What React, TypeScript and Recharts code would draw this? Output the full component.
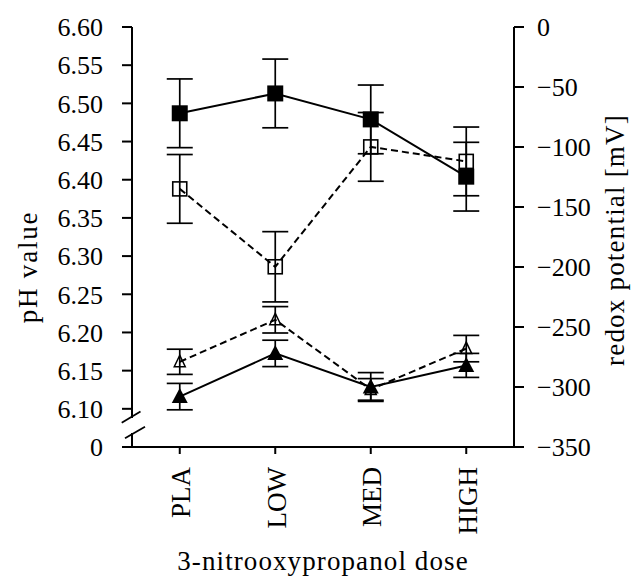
import React from "react";
import { ComposedChart, Line, XAxis, YAxis, ErrorBar } from "recharts";

const doses = ["PLA", "LOW", "MED", "HIGH"];

// pH (left axis)
const phFilled = [6.487, 6.513, 6.479, 6.404];
const phFilledSd = [0.045, 0.045, 0.045, 0.045];
const phOpen = [6.388, 6.286, 6.443, 6.424];
const phOpenSd = [0.045, 0.046, 0.045, 0.045];

// redox potential, mV (right axis)
const redoxFilled = [-308, -272, -300, -282];
const redoxFilledSd = [11, 11, 12, 10];
const redoxOpen = [-279, -244, -302, -268];
const redoxOpenSd = [10.5, 11, 9, 11];

const phTicks = [6.05, 6.1, 6.15, 6.2, 6.25, 6.3, 6.35, 6.4, 6.45, 6.5, 6.55, 6.6];
const redoxTicks = [-350, -300, -250, -200, -150, -100, -50, 0];

const data = doses.map((dose, i) => ({
  dose,
  phFilled: phFilled[i],
  phFilledSd: phFilledSd[i],
  phOpen: phOpen[i],
  phOpenSd: phOpenSd[i],
  redoxFilled: redoxFilled[i],
  redoxFilledSd: redoxFilledSd[i],
  redoxOpen: redoxOpen[i],
  redoxOpenSd: redoxOpenSd[i],
}));

const FONT = "Liberation Serif, Times New Roman, serif";
const INK = "#000";

const tickStyle = { fill: INK, fontSize: 26, fontFamily: FONT };

const FilledSquare = (p: any) => (
  <rect key={p.key} x={p.cx - 8} y={p.cy - 8} width={16} height={16} fill={INK} />
);
const OpenSquare = (p: any) => (
  <rect key={p.key} x={p.cx - 7} y={p.cy - 7} width={14} height={14} fill="none" stroke={INK} strokeWidth={1.6} />
);
const FilledTriangle = (p: any) => (
  <polygon
    key={p.key}
    points={`${p.cx},${p.cy - 8.5} ${p.cx - 8},${p.cy + 6.5} ${p.cx + 8},${p.cy + 6.5}`}
    fill={INK}
  />
);
const OpenTriangle = (p: any) => (
  <polygon
    key={p.key}
    points={`${p.cx},${p.cy - 6.5} ${p.cx - 5.5},${p.cy + 5} ${p.cx + 5.5},${p.cy + 5}`}
    fill="none"
    stroke={INK}
    strokeWidth={1.5}
  />
);

const DoseTick = (p: any) => (
  <text
    x={p.x}
    y={p.y}
    transform={`rotate(-90, ${p.x}, ${p.y})`}
    textAnchor="end"
    dy="0.38em"
    fill={INK}
    fontSize={27}
    fontFamily={FONT}
  >
    {p.payload.value}
  </text>
);

const fmtPh = (v: number) => (v < 6.075 ? "0" : v.toFixed(2));
const fmtRedox = (v: number) => (v < 0 ? "\u2212" + Math.abs(v) : String(v));

export default function App() {
  return (
    <div style={{ position: "absolute", left: 0, top: 0, width: 634, height: 577, background: "#fff" }}>
      <ComposedChart
        width={634}
        height={577}
        data={data}
        margin={{ top: 27, right: 20, bottom: 0, left: 20 }}
      >
        <XAxis
          dataKey="dose"
          scale="band"
          tick={<DoseTick />}
          tickSize={7}
          tickMargin={13}
          height={130}
          axisLine={{ stroke: INK, strokeWidth: 2 }}
          tickLine={{ stroke: INK, strokeWidth: 2 }}
          interval={0}
        />
        <YAxis
          yAxisId="ph"
          domain={[6.05, 6.6]}
          ticks={phTicks}
          tickFormatter={fmtPh}
          width={112}
          tickSize={10}
          tickMargin={19}
          tick={tickStyle}
          axisLine={{ stroke: INK, strokeWidth: 2 }}
          tickLine={{ stroke: INK, strokeWidth: 2 }}
          allowDataOverflow
        />
        <YAxis
          yAxisId="redox"
          orientation="right"
          domain={[-350, 0]}
          ticks={redoxTicks}
          tickFormatter={fmtRedox}
          width={100}
          tickSize={10}
          tickMargin={13}
          tick={{ ...tickStyle, textAnchor: "start" }}
          axisLine={{ stroke: INK, strokeWidth: 2 }}
          tickLine={{ stroke: INK, strokeWidth: 2 }}
        />

        <Line
          yAxisId="redox"
          dataKey="redoxOpen"
          stroke={INK}
          strokeWidth={2}
          strokeDasharray="7 4"
          dot={OpenTriangle}
          activeDot={false}
          isAnimationActive={false}
        >
          <ErrorBar dataKey="redoxOpenSd" width={13} stroke={INK} strokeWidth={1.7} direction="y" />
        </Line>
        <Line
          yAxisId="redox"
          dataKey="redoxFilled"
          stroke={INK}
          strokeWidth={2}
          dot={FilledTriangle}
          activeDot={false}
          isAnimationActive={false}
        >
          <ErrorBar dataKey="redoxFilledSd" width={13} stroke={INK} strokeWidth={1.7} direction="y" />
        </Line>
        <Line
          yAxisId="ph"
          dataKey="phOpen"
          stroke={INK}
          strokeWidth={2}
          strokeDasharray="7 4"
          dot={OpenSquare}
          activeDot={false}
          isAnimationActive={false}
        >
          <ErrorBar dataKey="phOpenSd" width={13} stroke={INK} strokeWidth={1.7} direction="y" />
        </Line>
        <Line
          yAxisId="ph"
          dataKey="phFilled"
          stroke={INK}
          strokeWidth={2}
          dot={FilledSquare}
          activeDot={false}
          isAnimationActive={false}
        >
          <ErrorBar dataKey="phFilledSd" width={13} stroke={INK} strokeWidth={1.7} direction="y" />
        </Line>
      </ComposedChart>

      {/* axis titles and the break mark on the pH axis */}
      <svg
        width={634}
        height={577}
        style={{ position: "absolute", left: 0, top: 0, pointerEvents: "none" }}
      >
        <rect x={128} y={418} width={8} height={15} fill="#fff" />
        <line x1={121.7} y1={422.7} x2={140.5} y2={411.5} stroke={INK} strokeWidth={1.8} />
        <line x1={125} y1={438.3} x2={145} y2={426.7} stroke={INK} strokeWidth={1.8} />
        <text
          x={37}
          y={267}
          transform="rotate(-90, 37, 267)"
          textAnchor="middle"
          fontSize={27}
          fontFamily={FONT}
          letterSpacing={1.8}
          fill={INK}
        >
          pH value
        </text>
        <text
          x={624}
          y={240}
          transform="rotate(-90, 624, 240)"
          textAnchor="middle"
          fontSize={27}
          fontFamily={FONT}
          letterSpacing={1.2}
          fill={INK}
        >
          redox potential [mV]
        </text>
        <text
          x={323}
          y={570}
          textAnchor="middle"
          fontSize={27}
          fontFamily={FONT}
          letterSpacing={1.1}
          fill={INK}
        >
          3-nitrooxypropanol dose
        </text>
      </svg>
    </div>
  );
}
